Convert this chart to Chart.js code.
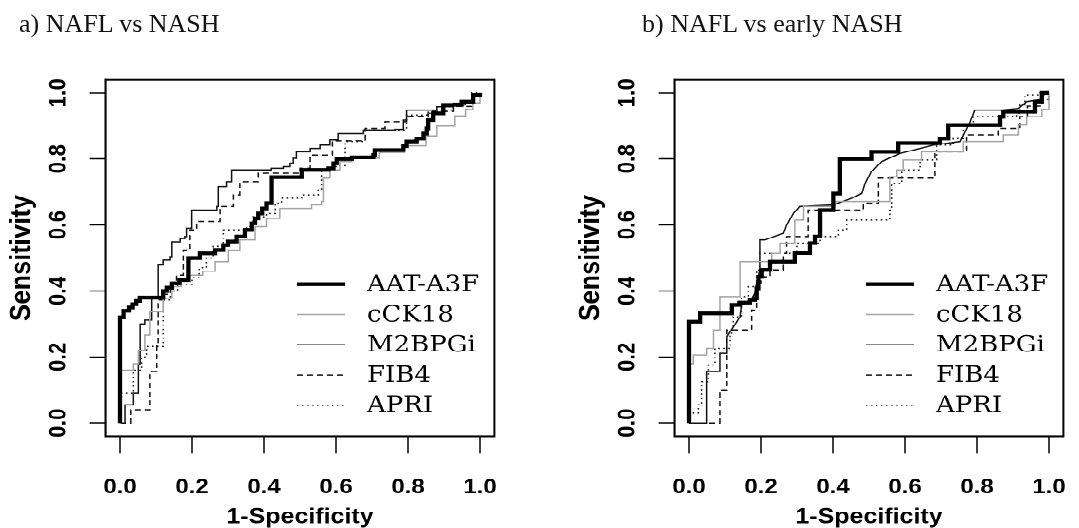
<!DOCTYPE html>
<html>
<head>
<meta charset="utf-8">
<script src="https://cdn.jsdelivr.net/npm/chart.js@4.4.1/dist/chart.umd.min.js"></script>
<style>
html, body { margin: 0; padding: 0; background: #fff; overflow: hidden; }
#page { position: relative; width: 1079px; height: 528px; overflow: hidden; }
.ttl { position: absolute; top: 11px; font-family: "Liberation Serif", serif; font-size: 26px; line-height: 26px; color: #111; white-space: nowrap; }
#squash { position: absolute; left: 0; top: 0; width: 1109px; height: 607px; transform: scaleY(0.87); transform-origin: 0 0; }
canvas { position: absolute; top: 0; }
</style>
</head>
<body>
<div id="page">
  <div id="squash">
    <canvas id="chartA" width="540" height="607" style="left:0px"></canvas>
    <canvas id="chartB" width="540" height="607" style="left:569px"></canvas>
  </div>
  <div class="ttl" style="left:19px">a) NAFL vs NASH</div>
  <div class="ttl" style="left:642px">b) NAFL vs early NASH</div>
</div>
<script>
const seriesNames = ['AAT-A3F', 'cCK18', 'M2BPGi', 'FIB4', 'APRI'];
const tickValues = [0, 0.2, 0.4, 0.6, 0.8, 1.0];

// a) NAFL vs NASH  (1-specificity, sensitivity)
const a_aat_x = [0, 0, 0.01, 0.025, 0.035, 0.045, 0.055, 0.12, 0.13, 0.144, 0.165, 0.19, 0.222, 0.264, 0.287, 0.30, 0.324, 0.347, 0.366, 0.375, 0.384, 0.395, 0.407, 0.421, 0.505, 0.579, 0.593, 0.602, 0.644, 0.704, 0.708, 0.787, 0.796, 0.824, 0.843, 0.852, 0.856, 0.87, 0.898, 0.949, 0.981, 1];
const a_aat_y = [0, 0.32, 0.34, 0.35, 0.36, 0.37, 0.38, 0.40, 0.41, 0.423, 0.433, 0.50, 0.514, 0.524, 0.539, 0.55, 0.565, 0.585, 0.605, 0.62, 0.635, 0.65, 0.666, 0.745, 0.767, 0.772, 0.787, 0.80, 0.805, 0.812, 0.827, 0.839, 0.853, 0.862, 0.877, 0.893, 0.918, 0.938, 0.964, 0.974, 0.994, 1];
const a_cck_x = [0, 0.002, 0.037, 0.051, 0.069, 0.083, 0.12, 0.144, 0.17, 0.194, 0.23, 0.264, 0.301, 0.333, 0.375, 0.407, 0.444, 0.532, 0.56, 0.565, 0.583, 0.611, 0.644, 0.72, 0.79, 0.85, 0.88, 0.93, 0.96, 0.98, 1];
const a_cck_y = [0, 0.16, 0.18, 0.22, 0.267, 0.337, 0.378, 0.413, 0.43, 0.448, 0.46, 0.489, 0.524, 0.555, 0.595, 0.62, 0.65, 0.661, 0.671, 0.742, 0.767, 0.792, 0.802, 0.82, 0.84, 0.87, 0.90, 0.93, 0.95, 0.97, 1];
const a_m2b_x = [0, 0.014, 0.037, 0.051, 0.056, 0.069, 0.088, 0.106, 0.12, 0.139, 0.144, 0.167, 0.18, 0.185, 0.199, 0.269, 0.273, 0.296, 0.31, 0.42, 0.454, 0.472, 0.481, 0.49, 0.528, 0.556, 0.583, 0.606, 0.676, 0.764, 0.787, 0.796, 0.88, 0.926, 0.981, 1];
const a_m2b_y = [0, 0.055, 0.09, 0.18, 0.30, 0.312, 0.383, 0.479, 0.494, 0.504, 0.549, 0.559, 0.565, 0.59, 0.645, 0.656, 0.716, 0.731, 0.767, 0.772, 0.777, 0.787, 0.802, 0.822, 0.832, 0.842, 0.858, 0.877, 0.888, 0.89, 0.918, 0.948, 0.958, 0.969, 0.99, 1];
const a_fib_x = [0, 0.03, 0.083, 0.102, 0.106, 0.12, 0.14, 0.157, 0.176, 0.194, 0.213, 0.278, 0.315, 0.333, 0.384, 0.5, 0.528, 0.59, 0.681, 0.736, 0.796, 0.856, 0.926, 0.977, 1];
const a_fib_y = [0, 0.04, 0.156, 0.242, 0.373, 0.39, 0.42, 0.448, 0.524, 0.585, 0.611, 0.656, 0.691, 0.731, 0.757, 0.772, 0.812, 0.855, 0.893, 0.913, 0.929, 0.944, 0.959, 0.99, 1];
const a_apri_x = [0, 0, 0.037, 0.06, 0.074, 0.12, 0.14, 0.16, 0.2, 0.22, 0.24, 0.259, 0.287, 0.352, 0.37, 0.407, 0.431, 0.449, 0.505, 0.551, 0.56, 0.6, 0.625, 0.676, 0.681, 0.796, 0.852, 0.889, 0.926, 0.963, 0.977, 1];
const a_apri_y = [0, 0.09, 0.16, 0.2, 0.232, 0.373, 0.40, 0.42, 0.44, 0.47, 0.50, 0.535, 0.585, 0.595, 0.625, 0.635, 0.666, 0.681, 0.691, 0.706, 0.767, 0.78, 0.853, 0.858, 0.888, 0.933, 0.938, 0.948, 0.964, 0.974, 1, 1];

// b) NAFL vs early NASH
const b_aat_x = [0, 0, 0.031, 0.119, 0.14, 0.169, 0.183, 0.188, 0.193, 0.202, 0.225, 0.294, 0.336, 0.35, 0.364, 0.401, 0.419, 0.507, 0.581, 0.697, 0.72, 0.864, 0.873, 0.961, 0.98, 1];
const b_aat_y = [0, 0.307, 0.332, 0.358, 0.365, 0.373, 0.378, 0.408, 0.443, 0.464, 0.489, 0.515, 0.545, 0.565, 0.645, 0.695, 0.80, 0.822, 0.848, 0.862, 0.903, 0.928, 0.943, 0.974, 1, 1];
const b_cck_x = [0, 0, 0.012, 0.049, 0.068, 0.086, 0.142, 0.23, 0.253, 0.294, 0.318, 0.406, 0.558, 0.577, 0.595, 0.646, 0.762, 0.873, 0.915, 0.938, 0.98, 1];
const b_cck_y = [0, 0.18, 0.206, 0.226, 0.282, 0.383, 0.489, 0.514, 0.545, 0.615, 0.656, 0.671, 0.746, 0.767, 0.797, 0.822, 0.853, 0.873, 0.903, 0.928, 0.95, 1];
const b_m2b_x = [0, 0.049, 0.049, 0.086, 0.086, 0.105, 0.105, 0.142, 0.146, 0.169, 0.183, 0.188, 0.197, 0.197, 0.211, 0.262, 0.271, 0.29, 0.308, 0.401, 0.452, 0.48, 0.489, 0.507, 0.535, 0.586, 0.679, 0.753, 0.781, 0.794, 0.869, 0.915, 0.938, 0.975, 0.99, 1];
const b_m2b_y = [0, 0, 0.156, 0.156, 0.211, 0.211, 0.262, 0.322, 0.358, 0.368, 0.393, 0.423, 0.464, 0.555, 0.555, 0.575, 0.60, 0.635, 0.656, 0.661, 0.681, 0.696, 0.726, 0.762, 0.792, 0.817, 0.842, 0.853, 0.913, 0.948, 0.948, 0.953, 0.974, 0.98, 1, 1];
const b_fib_x = [0, 0.086, 0.105, 0.174, 0.188, 0.20, 0.225, 0.262, 0.271, 0.331, 0.484, 0.526, 0.683, 0.771, 0.859, 0.919, 0.94, 0.98, 1];
const b_fib_y = [0, 0.10, 0.282, 0.342, 0.423, 0.443, 0.464, 0.514, 0.565, 0.645, 0.666, 0.742, 0.822, 0.873, 0.893, 0.928, 0.96, 0.98, 1];
const b_apri_x = [0, 0, 0.026, 0.035, 0.054, 0.072, 0.114, 0.123, 0.146, 0.165, 0.188, 0.197, 0.30, 0.364, 0.415, 0.438, 0.558, 0.563, 0.591, 0.642, 0.688, 0.734, 0.762, 0.79, 0.91, 0.919, 0.933, 0.975, 1];
const b_apri_y = [0, 0.03, 0.055, 0.125, 0.176, 0.226, 0.272, 0.322, 0.383, 0.413, 0.464, 0.514, 0.545, 0.565, 0.585, 0.615, 0.645, 0.726, 0.767, 0.797, 0.842, 0.862, 0.903, 0.928, 0.938, 0.964, 0.994, 1, 1];

const lineColors = ['#000000', '#a3a3a3', '#111111', '#111111', '#111111'];
const lineWidths = [4.3, 1.5, 1.5, 1.5, 1.5];
const lineDashes = [[], [], [], [6, 4], [1.6, 3.4]];

function toPoints(xs, ys) {
  return xs.map((x, i) => ({ x: x, y: ys[i] }));
}

const boxPlugin = {
  id: 'plotBox',
  afterDraw(chart) {
    const { ctx, chartArea: ca } = chart;
    ctx.save();
    ctx.strokeStyle = '#000';
    ctx.lineWidth = 2;
    ctx.strokeRect(ca.left, ca.top, ca.right - ca.left, ca.bottom - ca.top);
    ctx.restore();
  }
};

const legendPlugin = {
  id: 'rocLegend',
  afterDatasetsDraw(chart) {
    const { ctx, chartArea: ca } = chart;
    ctx.save();
    chart.data.datasets.forEach((ds, i) => {
      const y = ca.top + 235 + i * 34.8;
      ctx.beginPath();
      ctx.strokeStyle = ds.borderColor;
      ctx.lineWidth = ds.borderWidth;
      ctx.setLineDash(ds.borderDash);
      ctx.moveTo(ca.left + 191.4, y);
      ctx.lineTo(ca.left + 239.4, y);
      ctx.stroke();
      ctx.setLineDash([]);
      ctx.fillStyle = '#000';
      ctx.font = '26px "DejaVu Serif"';
      ctx.textBaseline = 'middle';
      ctx.textAlign = 'left';
      ctx.fillText(ds.label, ca.left + 261.4, y + 1);
    });
    ctx.restore();
  }
};

function axisOpts(isX) {
  return {
    type: 'linear',
    min: -0.04,
    max: 1.04,
    afterBuildTicks: s => { s.ticks = tickValues.map(v => ({ value: v })); },
    afterFit: s => { if (isX) s.height = 105.6; else s.width = 105.6; },
    grid: { display: true, drawOnChartArea: false, drawTicks: true, tickLength: isX ? 20 : 16, tickColor: '#000', tickWidth: 1.5 },
    border: { display: true, color: '#000', width: 2 },
    ticks: {
      color: '#000',
      font: { family: 'Liberation Sans', weight: 'bold', size: 24 },
      padding: isX ? 24.5 : 13.9,
      minRotation: isX ? 0 : 90,
      maxRotation: isX ? 0 : 90,
      crossAlign: isX ? 'near' : 'center',
      callback: v => v.toFixed(1)
    },
    title: {
      display: true,
      text: isX ? '1-Specificity' : 'Sensitivity',
      color: '#000',
      font: { family: 'Liberation Sans', weight: 'bold', size: isX ? 25 : 29, lineHeight: 1 },
      padding: isX ? { top: 0, bottom: 0 } : { top: 7.5, bottom: 0 }
    }
  };
}

function makeChart(id, xsList, ysList, steps) {
  const datasets = xsList.map((xs, i) => ({
    label: seriesNames[i],
    data: toPoints(xs, ysList[i]),
    showLine: true,
    stepped: steps[i],
    borderColor: lineColors[i],
    borderWidth: lineWidths[i],
    borderDash: lineDashes[i],
    borderCapStyle: 'butt',
    borderJoinStyle: 'miter',
    pointRadius: 0,
    pointHoverRadius: 0,
    fill: false,
    tension: 0
  }));
  // draw the thick line last so it sits on top
  datasets[0].order = -1;
  return new Chart(document.getElementById(id), {
    type: 'scatter',
    data: { datasets: datasets },
    options: {
      responsive: false,
      animation: false,
      devicePixelRatio: 2,
      events: [],
      layout: { padding: { top: 91.7, right: 45.6, bottom: 0, left: 0 } },
      plugins: { legend: { display: false }, tooltip: { enabled: false }, title: { display: false } },
      scales: { x: axisOpts(true), y: axisOpts(false) }
    },
    plugins: [boxPlugin, legendPlugin]
  });
}

makeChart('chartA',
  [a_aat_x, a_cck_x, a_m2b_x, a_fib_x, a_apri_x],
  [a_aat_y, a_cck_y, a_m2b_y, a_fib_y, a_apri_y],
  ['before', 'before', 'before', 'before', 'before']);

makeChart('chartB',
  [b_aat_x, b_cck_x, b_m2b_x, b_fib_x, b_apri_x],
  [b_aat_y, b_cck_y, b_m2b_y, b_fib_y, b_apri_y],
  ['before', 'before', false, 'before', 'before']);
</script>
</body>
</html>
